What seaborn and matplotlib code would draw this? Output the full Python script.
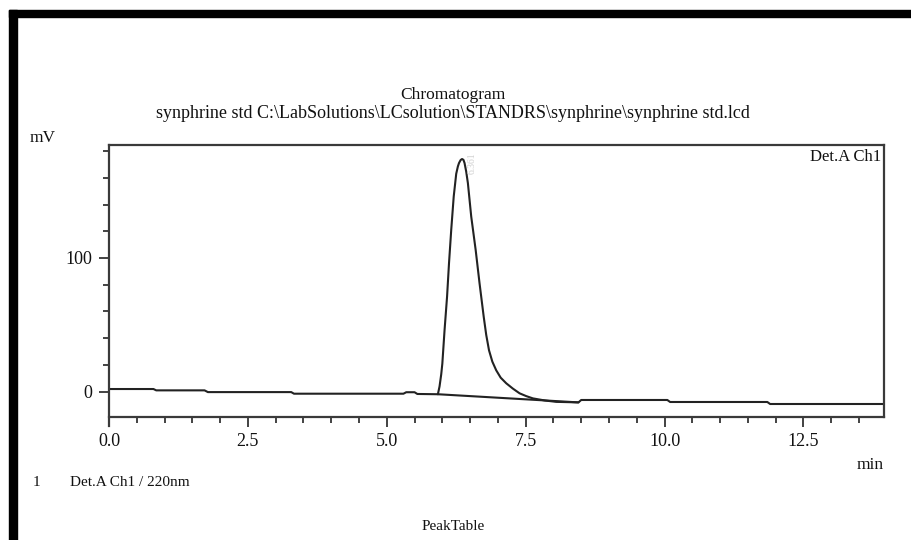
import matplotlib
matplotlib.use("Agg")
import matplotlib.pyplot as plt
from matplotlib.patches import Rectangle
from matplotlib.ticker import MultipleLocator, FormatStrFormatter
import seaborn as sns

# Chromatogram trace (minutes, mV)
time_min = [0.0, 0.8, 0.85, 1.72, 1.78, 3.28, 3.33, 5.3, 5.35, 5.5, 5.55, 5.92,
            5.95, 5.98, 6.00, 6.04, 6.085, 6.12, 6.16, 6.205, 6.25, 6.28, 6.30,
            6.33, 6.355, 6.38, 6.40, 6.43, 6.46, 6.52, 6.60, 6.67, 6.745, 6.79,
            6.84, 6.90, 6.97, 7.05, 7.15, 7.27, 7.39, 7.51, 7.63,
            7.85, 8.05, 8.45, 8.5, 10.05, 10.1, 11.85, 11.9, 14.0]
signal_mv = [2.0, 2.0, 1.0, 1.0, -0.3, -0.3, -1.5, -1.5, -0.4, -0.4, -1.7, -1.9,
             4.0, 13.0, 21.0, 46.0, 71.0, 96.0, 121.0, 146.0, 163.0, 168.5, 171.0,
             173.3, 174.0, 173.4, 171.0, 164.5, 156.0, 131.0, 106.0, 81.0, 56.0, 42.5,
             31.0, 22.5, 16.0, 10.5, 6.3, 2.3, -1.2, -3.3, -5.0,
             -6.6, -7.6, -8.0, -6.2, -6.2, -7.7, -7.7, -9.2, -9.2]

# integration baseline drawn under the peak
baseline_min = [5.92, 8.45]
baseline_mv = [-1.9, -8.0]

peak_rt_label = "6.361"
x_tick_values = [0.0, 2.5, 5.0, 7.5, 10.0, 12.5]
y_tick_values = [0, 100]

title_text = "Chromatogram"
subtitle_text = "synphrine std C:\\LabSolutions\\LCsolution\\STANDRS\\synphrine\\synphrine std.lcd"

sns.set_style("ticks")
plt.rcParams['font.family'] = ['Liberation Serif', 'DejaVu Serif']
plt.rcParams['text.color'] = '#111111'
plt.rcParams['xtick.labelcolor'] = '#111111'
plt.rcParams['ytick.labelcolor'] = '#111111'

W, H = 912, 540
fig = plt.figure(figsize=(W / 100, H / 100), dpi=100)
fig.patch.set_facecolor("white")


def px(x, y):
    """pixel position -> figure fraction"""
    return x / W, 1 - y / H


ax = fig.add_axes([109 / W, 1 - 416.7 / H, (884 - 109) / W, (416.7 - 145) / H])

line_col = "#222222"
sns.lineplot(x=time_min, y=signal_mv, estimator=None, sort=False,
             color=line_col, linewidth=1.5, ax=ax)
sns.lineplot(x=baseline_min, y=baseline_mv, estimator=None, sort=False,
             color=line_col, linewidth=1.5, ax=ax)

ax.set_xlim(0, 13.95)
ax.set_ylim(-18.7, 184.5)
ax.set_xticks(x_tick_values)
ax.set_yticks(y_tick_values)
ax.xaxis.set_minor_locator(MultipleLocator(0.5))
ax.yaxis.set_minor_locator(MultipleLocator(20))
ax.xaxis.set_major_formatter(FormatStrFormatter("%.1f"))
ax.tick_params(axis="both", which="major", direction="out", length=7, width=1.2,
               labelsize=13, color=line_col, pad=5)
ax.tick_params(axis="both", which="minor", direction="out", length=4, width=1.2,
               color=line_col)
ax.set_xlabel("")
ax.set_ylabel("")
for side in ["left", "right", "top", "bottom"]:
    ax.spines[side].set_visible(True)
    ax.spines[side].set_color("#3a3a3a")
    ax.spines[side].set_linewidth(1.6)
ax.spines["left"].set_bounds(-26, 184.5)

ax.text(0.996, 0.985, "Det.A Ch1", transform=ax.transAxes, ha="right", va="top",
        fontsize=12)
ax.text(6.53, 171, peak_rt_label, rotation=90, color="#d0d0d0", fontsize=7,
        ha="center", va="center")

# header and footer texts
fig.text(*px(453, 95), title_text, ha="center", va="center", fontsize=12.5)
fig.text(*px(453, 113), subtitle_text, ha="center", va="center", fontsize=13)
fig.text(*px(30, 138), "mV", ha="left", va="center", fontsize=12.5)
fig.text(*px(884, 465), "min", ha="right", va="center", fontsize=12.5)
fig.text(*px(33, 483), "1", ha="left", va="center", fontsize=11)
fig.text(*px(70, 483), "Det.A Ch1 / 220nm", ha="left", va="center", fontsize=11)
fig.text(*px(453, 527), "PeakTable", ha="center", va="center", fontsize=11)

# thick black frame on the left and top of the scan
fig.add_artist(Rectangle(px(9, 17), 903 / W, 7 / H, transform=fig.transFigure,
                         color="black", zorder=10))
fig.add_artist(Rectangle(px(9, 540), 8 / W, 530 / H, transform=fig.transFigure,
                         color="black", zorder=10))

plt.savefig("out.png", dpi=100)
